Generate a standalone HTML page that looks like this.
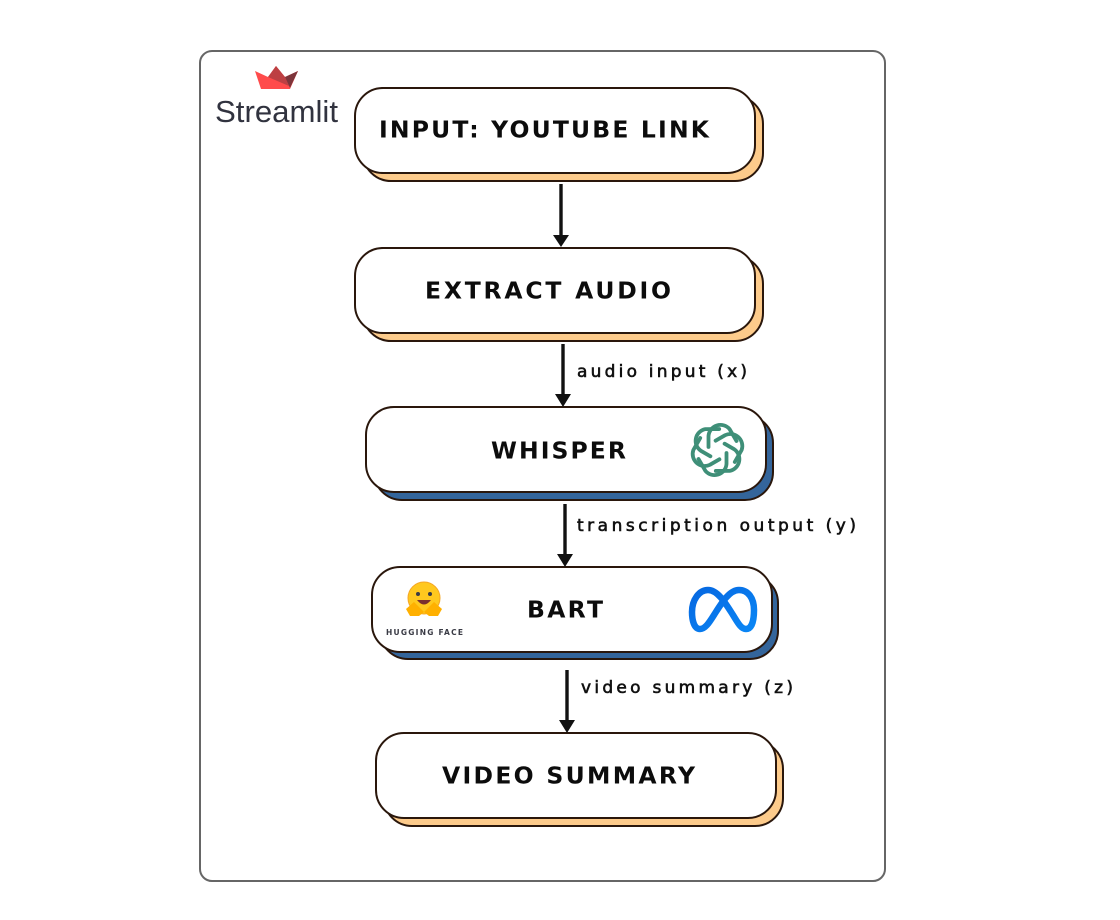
<!DOCTYPE html>
<html><head><meta charset="utf-8"><style>
html,body{margin:0;padding:0;background:#fff;width:1120px;height:920px;overflow:hidden}
svg{display:block}
.t{font-family:"DejaVu Sans",sans-serif;font-weight:700;font-size:23.5px;fill:#0c0c0c}
.l{font-family:"DejaVu Sans",sans-serif;font-size:17px;fill:#111;stroke:#111;stroke-width:.6}
.b{fill:#fff;stroke:#2a170c;stroke-width:2}
.s{stroke:#2a170c;stroke-width:2}
</style></head><body>
<svg width="1120" height="920" viewBox="0 0 1120 920" xmlns="http://www.w3.org/2000/svg">
<rect x="200" y="51" width="685" height="830" rx="12" fill="#fff" stroke="#666" stroke-width="2"/>

<!-- Streamlit logo -->
<polygon points="255,71 268,77 276,66 285,77 298,71 290,89 261,89" fill="#ff4b4b"/>
<polygon points="268,77 276,66 285,77 289,86" fill="#bd4043"/>
<polygon points="285,77 298,71 290,88" fill="#7d353b"/>
<text x="215" y="122" textLength="123" lengthAdjust="spacingAndGlyphs" style="font-family:'Liberation Sans',sans-serif;font-size:31px;fill:#31333f">Streamlit</text>

<!-- Box 1 -->
<rect class="s" x="363" y="96" width="400" height="85" rx="28" fill="#fdcb8b"/>
<rect class="b" x="355" y="88" width="400" height="85" rx="28"/>
<text class="t" x="379" y="137.5" textLength="330" lengthAdjust="spacing">INPUT: YOUTUBE LINK</text>

<!-- Box 2 -->
<rect class="s" x="363" y="256" width="400" height="85" rx="28" fill="#fdcb8b"/>
<rect class="b" x="355" y="248" width="400" height="85" rx="28"/>
<text class="t" x="425" y="298.5" textLength="246" lengthAdjust="spacing">EXTRACT AUDIO</text>

<!-- Box 3 -->
<rect class="s" x="374" y="415" width="399" height="85" rx="28" fill="#34659b"/>
<rect class="b" x="366" y="407" width="400" height="85" rx="28"/>
<text class="t" x="491" y="458.5" textLength="135" lengthAdjust="spacing">WHISPER</text>
<!-- knot icon -->
<g fill="none" stroke="#3f8f78" stroke-width="3.8" stroke-linejoin="round" stroke-linecap="round" transform="translate(717.5 450)">
<path d="M-9,-3 V-14 A12,12 0 0 1 12,-21 L19,-9"/>
<path d="M-9,-3 V-14 A12,12 0 0 1 12,-21 L19,-9" transform="rotate(60)"/>
<path d="M-9,-3 V-14 A12,12 0 0 1 12,-21 L19,-9" transform="rotate(120)"/>
<path d="M-9,-3 V-14 A12,12 0 0 1 12,-21 L19,-9" transform="rotate(180)"/>
<path d="M-9,-3 V-14 A12,12 0 0 1 12,-21 L19,-9" transform="rotate(240)"/>
<path d="M-9,-3 V-14 A12,12 0 0 1 12,-21 L19,-9" transform="rotate(300)"/>
</g>

<!-- Box 4 -->
<rect class="s" x="380" y="575" width="398" height="84" rx="28" fill="#34659b"/>
<rect class="b" x="372" y="567" width="400" height="85" rx="28"/>
<text class="t" x="527" y="617.5" textLength="76" lengthAdjust="spacing">BART</text>
<!-- Hugging face -->
<circle cx="424" cy="598" r="16" fill="#ffc81e" stroke="#f5a623" stroke-width="1"/>
<circle cx="418" cy="594" r="2" fill="#3a3b45"/>
<circle cx="430" cy="594" r="2" fill="#3a3b45"/>
<path d="M417 600 Q424 609 431 600 Z" fill="#7a2f2f"/>
<path d="M406 609 L414 602 L424 612 L419 616 L410 616 Z" fill="#ffb000"/>
<path d="M442 609 L434 602 L424 612 L429 616 L438 616 Z" fill="#ffb000"/>
<text x="386" y="635" textLength="77" lengthAdjust="spacing" style="font-family:'DejaVu Sans',sans-serif;font-weight:700;font-size:7.5px;fill:#3a3b45">HUGGING FACE</text>
<!-- Meta-style infinity -->
<defs><linearGradient id="m" x1="0" y1="0" x2="1" y2="1"><stop offset="0" stop-color="#0668e1"/><stop offset="1" stop-color="#0a86f5"/></linearGradient></defs>
<path d="M708 590 C718 590 726 604 733 615 C738 623 741 629 746 629 C752 629 754 620 754 610 C754 598 748 590 739 590 C729 590 721 604 714 615 C709 623 705 629 700 629 C694 629 692 620 692 612 C692 600 699 590 708 590 Z" fill="none" stroke="url(#m)" stroke-width="6.5"/>

<!-- Box 5 -->
<rect class="s" x="384" y="741" width="399" height="85" rx="28" fill="#fdcb8b"/>
<rect class="b" x="376" y="733" width="400" height="85" rx="28"/>
<text class="t" x="442" y="783.5" textLength="253" lengthAdjust="spacing">VIDEO SUMMARY</text>

<!-- Arrows -->
<g stroke="#111" stroke-width="3.4" fill="#111">
<line x1="561" y1="184" x2="561" y2="236"/>
<line x1="563" y1="344" x2="563" y2="396"/>
<line x1="565" y1="504" x2="565" y2="556"/>
<line x1="567" y1="670" x2="567" y2="722"/>
</g>
<g fill="#111">
<polygon points="553,235 569,235 561,247"/>
<polygon points="555,394 571,394 563,407"/>
<polygon points="557,554 573,554 565,567"/>
<polygon points="559,720 575,720 567,733"/>
</g>

<!-- Labels -->
<text class="l" x="577" y="377" textLength="170" lengthAdjust="spacing">audio input (x)</text>
<text class="l" x="577" y="531" textLength="279" lengthAdjust="spacing">transcription output (y)</text>
<text class="l" x="581" y="693" textLength="212" lengthAdjust="spacing">video summary (z)</text>
</svg>
</body></html>
